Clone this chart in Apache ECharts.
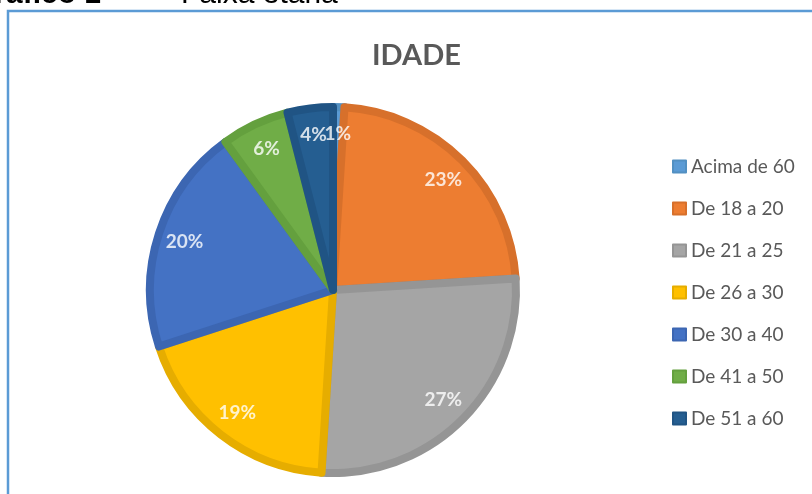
<!DOCTYPE html>
<html>
<head>
<meta charset="utf-8">
<script src="https://cdn.jsdelivr.net/npm/echarts@6/dist/echarts.min.js"></script>
<style>
  html, body { margin: 0; padding: 0; background: #fff; }
</style>
</head>
<body>
<div id="pie" style="width: 812px; height: 494px"></div>
<script>
// faixas etárias e percentuais
var faixas = ['Acima de 60', 'De 18 a 20', 'De 21 a 25', 'De 26 a 30', 'De 30 a 40', 'De 41 a 50', 'De 51 a 60'];
var percentuais = [1, 23, 27, 19, 20, 6, 4];
var cores = ['#5B9BD5', '#ED7D31', '#A5A5A5', '#FFC000', '#4472C4', '#70AD47', '#255E91'];
var bordas = ['#5290C2', '#D7702B', '#959595', '#E6AD00', '#3C66B2', '#64A03E', '#205484'];

var myChart = echarts.init(document.getElementById('pie'));

var fatias = faixas.map(function (nome, i) {
    return {
        name: nome,
        value: percentuais[i],
        itemStyle: { color: cores[i], borderColor: bordas[i] }
    };
});

// rótulos: pontos no sistema polar, no meio de cada fatia, perto da borda
var total = percentuais.reduce(function (a, b) { return a + b; }, 0);
var acumulado = 0;
var rotulos = percentuais.map(function (v) {
    var meio = acumulado + v / 2;
    acumulado += v;
    return { value: [156, meio / total * 100], pct: v };
});

// pedaço do título da figura que aparece cortado no topo
var fonteLegenda = '30px "Liberation Sans"';
var cabecalho = [
    { texto: 'Gráfico 1', x: 101, align: 'right', font: 'bold ' + fonteLegenda },
    { texto: '–', x: 135, align: 'center', font: fonteLegenda },
    { texto: 'Faixa etária', x: 181, align: 'left', font: fonteLegenda }
];

var option = {
    animation: false,
    title: {
        text: 'IDADE',
        left: 367,
        top: 36,
        textStyle: {
            fontFamily: 'Lato',
            fontWeight: 'bold',
            fontSize: 29,
            color: '#595959'
        }
    },
    legend: {
        orient: 'vertical',
        left: 667,
        top: 152,
        itemWidth: 13,
        itemHeight: 12,
        itemGap: 23,
        icon: 'rect',
        data: faixas,
        textStyle: {
            fontFamily: 'Lato',
            fontSize: 19,
            color: '#595959'
        }
    },
    polar: {
        center: [333, 290],
        radius: 187
    },
    angleAxis: {
        type: 'value',
        min: 0,
        max: 100,
        startAngle: 90,
        clockwise: true,
        show: false
    },
    radiusAxis: {
        type: 'value',
        min: 0,
        max: 187,
        show: false
    },
    graphic: [
        {
            // moldura do gráfico
            type: 'rect',
            shape: { x: 8, y: 11, width: 900, height: 600 },
            style: { fill: 'none', stroke: '#5B9BD5', lineWidth: 2.5 },
            z: 0
        }
    ].concat(cabecalho.map(function (c) {
        return {
            type: 'text',
            x: c.x,
            y: -5,
            style: {
                text: c.texto,
                align: c.align,
                verticalAlign: 'middle',
                font: c.font,
                fill: '#000'
            }
        };
    })),
    series: [
        {
            name: 'Idade',
            type: 'pie',
            center: [333, 290],
            radius: 183,
            startAngle: 90,
            clockwise: true,
            itemStyle: { borderWidth: 8 },
            label: { show: false },
            labelLine: { show: false },
            emphasis: { scale: false },
            data: fatias
        },
        {
            name: 'Rotulos',
            type: 'scatter',
            coordinateSystem: 'polar',
            symbolSize: 1,
            silent: true,
            z: 10,
            itemStyle: { color: 'transparent' },
            label: {
                show: true,
                position: 'inside',
                formatter: function (p) { return p.data.pct + '%'; },
                fontFamily: 'Lato',
                fontWeight: 'bold',
                fontSize: 19,
                color: '#fff',
                textBorderWidth: 0
            },
            data: rotulos
        }
    ]
};

myChart.setOption(option);
</script>
</body>
</html>
